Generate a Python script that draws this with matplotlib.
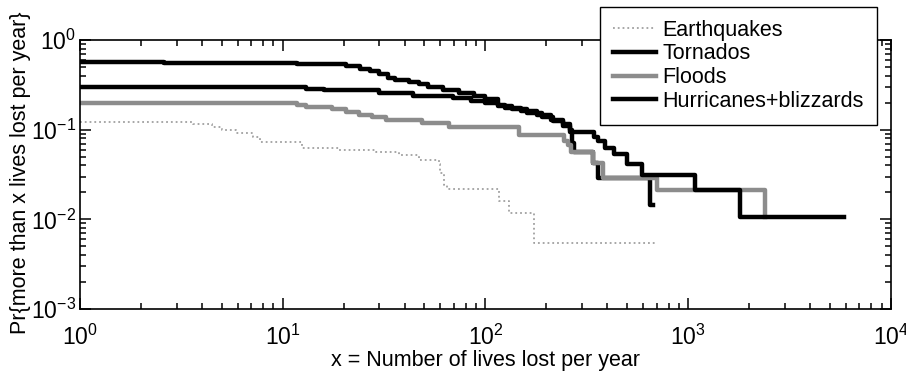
import matplotlib
matplotlib.use("Agg")
import matplotlib.pyplot as plt

# fraction of years with more than x deaths, per hazard
eq_x = [1, 3.6, 4.5, 5.0, 5.9, 7.1, 7.7, 12.5, 19, 29, 37.5, 47, 59, 60, 62.5, 64.5, 116, 130, 173, 697]
eq_y = [0.122, 0.116, 0.108, 0.1, 0.092, 0.083, 0.073, 0.063, 0.06, 0.057, 0.052, 0.046, 0.042,
        0.033, 0.024, 0.022, 0.016, 0.0117, 0.0054, 0.0054]

tor_x = [1, 2.6, 11.7, 20.5, 24, 27, 30, 33, 36, 42, 47, 52, 62, 74, 88, 100, 115, 125, 150,
         180, 210, 240, 260, 268, 275, 340, 360, 650, 670]
tor_y = [0.57, 0.56, 0.54, 0.51, 0.48, 0.45, 0.42, 0.38, 0.36, 0.34, 0.32, 0.30, 0.28, 0.26,
         0.24, 0.22, 0.19, 0.175, 0.16, 0.145, 0.13, 0.115, 0.1, 0.071, 0.057, 0.043, 0.029,
         0.0143, 0.0143]

fl_x = [1, 11.7, 13, 17.5, 20.5, 23.8, 27.6, 32.5, 48.6, 66, 146, 243, 255, 265, 340, 380, 700, 2400]
fl_y = [0.20, 0.19, 0.18, 0.17, 0.157, 0.146, 0.138, 0.128, 0.119, 0.107, 0.087, 0.075, 0.068,
        0.057, 0.043, 0.029, 0.021, 0.0105]

hu_x = [1, 13, 16, 30, 44, 69, 85, 100, 115, 135, 160, 190, 215, 240, 260, 345, 360, 390, 430,
        500, 590, 1080, 1800, 5900]
hu_y = [0.30, 0.285, 0.275, 0.26, 0.24, 0.225, 0.21, 0.2, 0.185, 0.17, 0.155, 0.14, 0.125, 0.11,
        0.095, 0.084, 0.074, 0.063, 0.053, 0.042, 0.0316, 0.021, 0.0105, 0.0105]

plt.rcParams["font.family"] = ["Liberation Sans", "DejaVu Sans"]
plt.rcParams["mathtext.fontset"] = "custom"
plt.rcParams["mathtext.rm"] = "Liberation Sans"
plt.rcParams["mathtext.it"] = "Liberation Sans:italic"
plt.rcParams["mathtext.bf"] = "Liberation Sans:bold"
plt.rcParams["font.size"] = 15.5

fig = plt.figure(figsize=(9.06, 3.71), dpi=100)
ax = fig.add_axes([0.0883, 0.167, 0.895, 0.725])

ax.step(eq_x, eq_y, where="post", color="#a0a0a0", lw=1.3, ls=":", label="Earthquakes")
ax.step(tor_x, tor_y, where="post", color="black", lw=3.2, label="Tornados")
ax.step(fl_x, fl_y, where="post", color="#8c8c8c", lw=3.2, label="Floods")
ax.step(hu_x, hu_y, where="post", color="black", lw=3.2, label="Hurricanes+blizzards")

ax.set_xscale("log")
ax.set_yscale("log")
ax.set_xlim(1, 1e4)
ax.set_ylim(1e-3, 1)

for s in ax.spines.values():
    s.set_linewidth(1.2)
ax.tick_params(which="both", direction="in", top=True, right=True, width=1.1, labelsize=16.5)
ax.tick_params(which="major", length=8)
ax.tick_params(which="minor", length=4)
ax.tick_params(axis="x", which="major", pad=11)
ax.tick_params(axis="y", which="major", pad=3)

ax.set_xlabel("x = Number of lives lost per year", labelpad=0)
ax.set_ylabel("Pr{more than x lives lost per year}")
ax.yaxis.set_label_coords(-0.061, 0.505)

leg = ax.legend(loc="upper right", bbox_to_anchor=(877 / 906, 1 - 7 / 371),
                bbox_transform=fig.transFigure, fancybox=False, framealpha=1,
                edgecolor="black", handlelength=2.0, handletextpad=0.3,
                labelspacing=0.12, borderpad=0.6, borderaxespad=0)
leg.get_frame().set_linewidth(1.0)

fig.savefig("out.png", dpi=100)
